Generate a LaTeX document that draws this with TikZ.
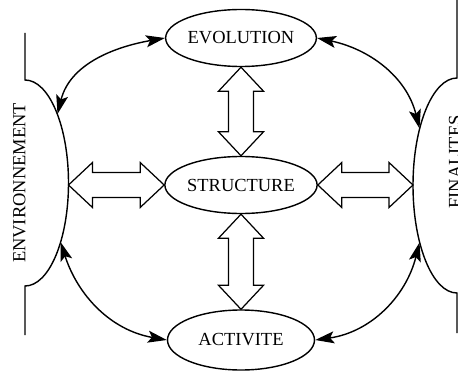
\documentclass[tikz,border=0pt]{standalone}
\usepackage{fontspec}
\setmainfont{Liberation Serif}
\usepackage{tikz}
\usetikzlibrary{arrows.meta,calc,shapes.geometric}
% open two-headed arrow between two tips
\newcommand{\dblarrow}[2]{%
  \draw[fat] (#1) -- ($(#1)!0.48cm!(#2)!0.45cm!90:(#2)$) -- ($(#1)!0.48cm!(#2)!0.25cm!90:(#2)$)
    -- ($(#2)!0.48cm!(#1)!0.25cm!-90:(#1)$) -- ($(#2)!0.48cm!(#1)!0.45cm!-90:(#1)$) -- (#2)
    -- ($(#2)!0.48cm!(#1)!0.45cm!90:(#1)$) -- ($(#2)!0.48cm!(#1)!0.25cm!90:(#1)$)
    -- ($(#1)!0.48cm!(#2)!0.25cm!-90:(#2)$) -- ($(#1)!0.48cm!(#2)!0.45cm!-90:(#2)$) -- cycle;}

\begin{document}
\begin{tikzpicture}[font=\fontsize{10.5}{12}\selectfont,>={Stealth[length=3.8mm,width=2.4mm,inset=0.8mm]},
  box/.style={draw,ellipse,line width=0.8pt,minimum width=2.94cm,minimum height=1.14cm,inner sep=0pt},
  rim/.style={line width=0.8pt},
  link/.style={<->,line width=0.8pt},
  fat/.style={draw,fill=white,line width=0.7pt}]
\useasboundingbox (-4.82,-3.72) rectangle (4.34,3.70);
% CENTRE
\node[box] (evo) at (0,2.94) {EVOLUTION};
\node[box] (str) at (0,0) {STRUCTURE};
\node[box,minimum height=1.2cm] (act) at (0,-3.1) {ACTIVITE};
% LEFT
\draw[rim] (-4.32,3.04) -- (-4.32,2.10) arc[start angle=90,end angle=-90,x radius=0.87,y radius=2.06] -- (-4.32,-3.00);
\node[rotate=90,anchor=base] (env) at (-4.31,0.04) {ENVIRONNEMENT};
\coordinate (envtop) at (-3.67,1.42);
\coordinate (envmid) at (-3.45,0);
\coordinate (envbot) at (-3.61,-1.14);
% RIGHT
\draw[rim] (4.32,3.72) -- (4.32,2.14) arc[start angle=90,end angle=270,x radius=0.88,y radius=2.15] -- (4.32,-2.96);
\node[rotate=90,anchor=base] (fin) at (4.40,0.46) {FINALITES};
\coordinate (fintop) at (3.57,1.13);
\coordinate (finmid) at (3.44,0);
\coordinate (finbot) at (3.57,-1.15);
% LINKS
\draw[link] (envtop) to[out=76,in=190] (evo.west);
\draw[link] (fintop) to[out=104,in=-12] (evo.east);
\draw[link] (envbot) to[out=-72,in=170] (act.west);
\draw[link] (finbot) to[out=-104,in=8] (act.east);
\dblarrow{evo.south}{str.north}
\dblarrow{str.south}{act.north}
\dblarrow{envmid}{str.west}
\dblarrow{str.east}{finmid}
\end{tikzpicture}
\end{document}
